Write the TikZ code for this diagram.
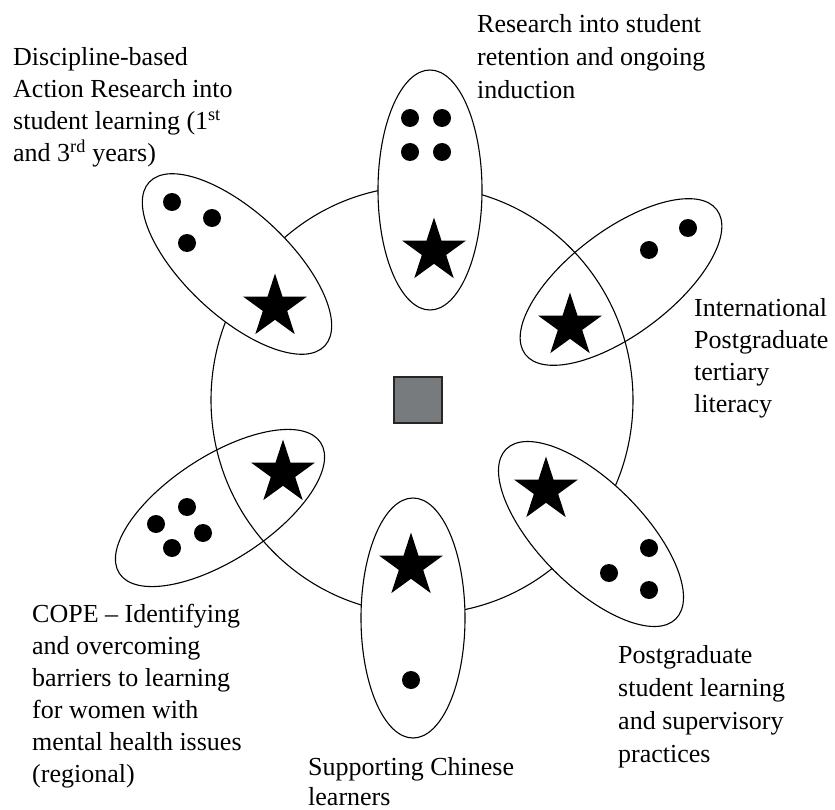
\documentclass[tikz,border=0pt]{standalone}
\usepackage{fontspec}
\setmainfont{Liberation Serif}
\usetikzlibrary{shapes.geometric}
\definecolor{hubgrey}{RGB}{120,123,126}
\begin{document}
\begin{tikzpicture}[x=1pt,y=-1pt,
  cluster/.style={ellipse, draw=black, line width=1.1pt, minimum width=240pt,
    minimum height=104pt, inner sep=0pt},
  solidcluster/.style={cluster, fill=white},
  starmark/.style={star, star points=5, star point ratio=2.618, fill=black,
    minimum size=67pt, inner sep=0pt},
  dotmark/.style={circle, fill=black, minimum size=18pt, inner sep=0pt},
  % captions are placed by the baseline of their last line
  blurb/.style={anchor=base west, align=left, inner sep=0pt,
    font=\fontsize{26}{32}\selectfont}]
\useasboundingbox (0,0) rectangle (835,810);

% central ring and hub
\node[ellipse, draw=black, line width=1.1pt, minimum width=422pt,
  minimum height=428pt, inner sep=0pt] (ring) at (422,400) {};
\node[draw=black!85, line width=2pt, fill=hubgrey, minimum width=48pt,
  minimum height=46pt, inner sep=0pt] (hub) at (418,400) {};

% project clusters around the ring
\node[solidcluster, rotate=90]  (top)   at (430,190) {};
\node[solidcluster, rotate=-43] (ul)    at (237,264) {};
\node[cluster, rotate=37]       (ur)    at (621,282) {};
\node[solidcluster, rotate=-45] (lr)    at (591,534) {};
\node[solidcluster, rotate=90]  (bot)   at (413,618) {};
\node[cluster, rotate=33]       (ll)    at (220,508) {};

% stars
\node[starmark] (topstar) at (434,251) {};
\node[starmark] (ulstar)  at (275,307) {};
\node[starmark] (urstar)  at (570,326) {};
\node[starmark] (lrstar)  at (546,490) {};
\node[starmark] (botstar) at (411,566) {};
\node[starmark] (llstar)  at (283,473) {};

% dots
\node[dotmark] (t1) at (410,118) {};
\node[dotmark] (t2) at (442,118) {};
\node[dotmark] (t3) at (410,152) {};
\node[dotmark] (t4) at (442,152) {};
\node[dotmark] (a1) at (172,202) {};
\node[dotmark] (a2) at (212,218) {};
\node[dotmark] (a3) at (187,243) {};
\node[dotmark] (b1) at (649,250) {};
\node[dotmark] (b2) at (688,228) {};
\node[dotmark] (c1) at (649,548) {};
\node[dotmark] (c2) at (609,573) {};
\node[dotmark] (c3) at (649,590) {};
\node[dotmark] (d1) at (411,680) {};
\node[dotmark] (e1) at (187,507) {};
\node[dotmark] (e2) at (156,524) {};
\node[dotmark] (e3) at (203,533) {};
\node[dotmark] (e4) at (172,548) {};

% captions
\node[blurb] (ultext) at (13,162)
  {Discipline-based\\Action Research into\\student learning (1\textsuperscript{st}\\and 3\textsuperscript{rd} years)};
\node[blurb, font=\fontsize{26}{33}\selectfont] (toptext) at (477,99)
  {Research into student\\retention and ongoing\\induction};
\node[blurb, font=\fontsize{26}{31.8}\selectfont] (urtext) at (694,412)
  {International\\Postgraduate\\tertiary\\literacy};
\node[blurb, font=\fontsize{26}{33}\selectfont] (lrtext) at (618,762)
  {Postgraduate\\student learning\\and supervisory\\practices};
\node[blurb, font=\fontsize{26}{30}\selectfont] (bottext) at (308,805)
  {Supporting Chinese\\learners};
\node[blurb] (lltext) at (32,782)
  {COPE -- Identifying\\and overcoming\\barriers to learning\\for women with\\mental health issues\\(regional)};
\end{tikzpicture}
\end{document}
